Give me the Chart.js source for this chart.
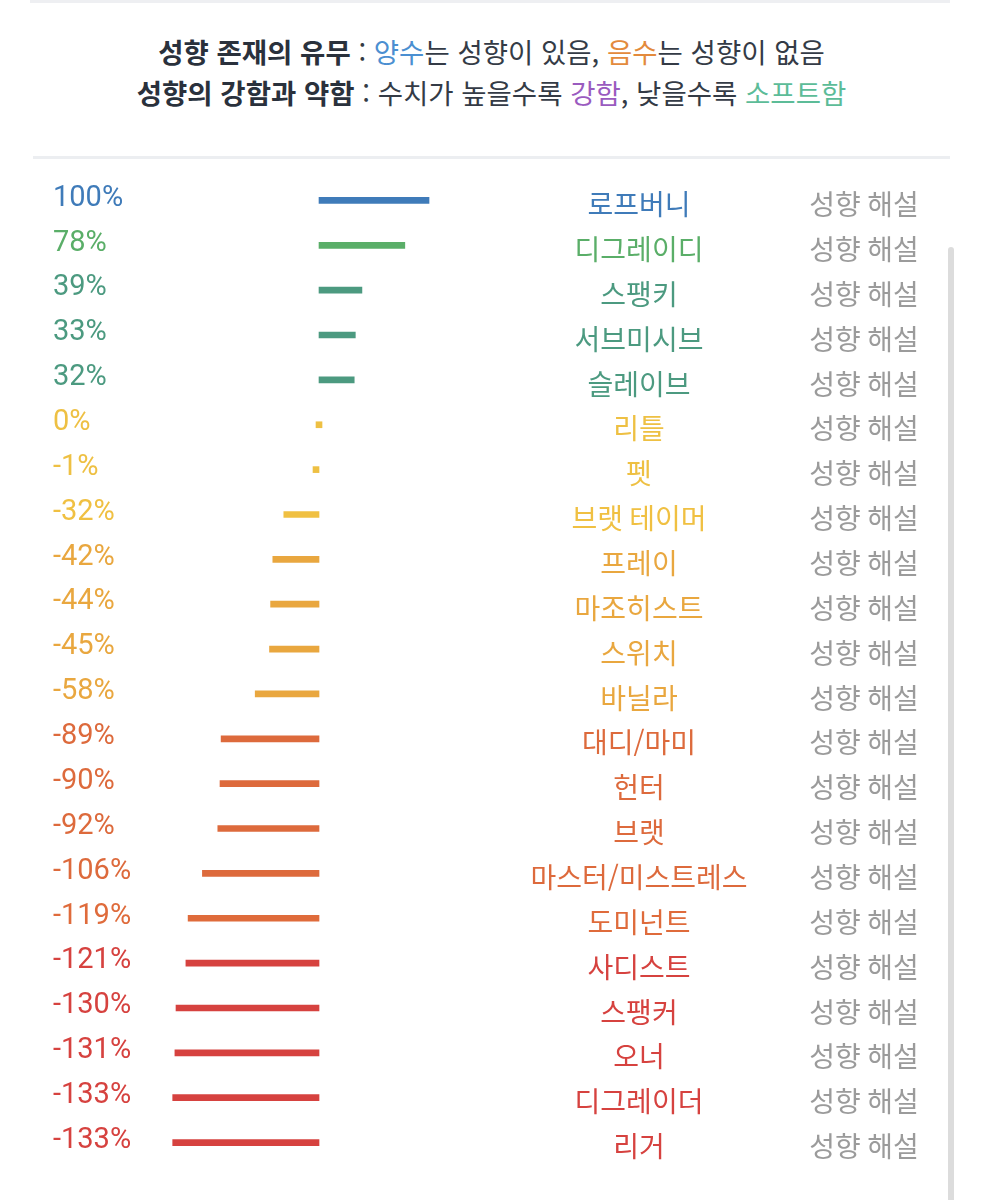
<!DOCTYPE html>
<html lang="ko">
  <head>
    <meta charset="UTF-8" />
    <meta name="viewport" content="width=device-width, initial-scale=1.0" />
    <title>성향 차트</title>
    <script src="https://cdn.jsdelivr.net/npm/chart.js"></script>
    <style>
      body {
        margin: 0;
        width: 983px;
        height: 1200px;
        overflow: hidden;
        position: relative;
        background: #fff;
        font-family: "Noto Sans CJK KR", sans-serif;
      }
      .topline {
        position: absolute;
        left: 30px;
        top: 0;
        width: 920px;
        height: 3px;
        background: #eeeff2;
      }
      .head {
        position: absolute;
        left: 0;
        top: 31px;
        width: 983px;
        text-align: center;
        font-size: 27.5px;
        line-height: 41px;
        color: #343b46;
      }
      .head b { color: #2a313c; }
      .divider {
        position: absolute;
        left: 33px;
        top: 156px;
        width: 917px;
        height: 3px;
        background: #eceef1;
      }
      .scroll {
        position: absolute;
        left: 948px;
        top: 247px;
        width: 6px;
        height: 960px;
        border-radius: 3px;
        background: #dcdcdc;
      }
      #wrap {
        position: absolute;
        left: 0;
        top: 0;
        width: 983px;
        height: 1200px;
      }
    </style>
  </head>
  <body>
    <div class="topline"></div>
    <div class="head">
      <div><b>성향 존재의 유무</b> : <span style="color:#4b8fd1">양수</span>는 성향이 있음, <span style="color:#e38a3c">음수</span>는 성향이 없음</div>
      <div><b>성향의 강함과 약함</b> : 수치가 높을수록 <span style="color:#9a5bbf">강함</span>, 낮을수록 <span style="color:#5cbc98">소프트함</span></div>
    </div>
    <div class="divider"></div>
    <div class="scroll"></div>
    <div id="wrap">
      <canvas id="myChart"></canvas>
    </div>

    <script>
      // 성향 이름
      const names = [
        "로프버니", "디그레이디", "스팽키", "서브미시브", "슬레이브", "리틀", "펫",
        "브랫 테이머", "프레이", "마조히스트", "스위치", "바닐라", "대디/마미", "헌터",
        "브랫", "마스터/미스트레스", "도미넌트", "사디스트", "스팽커", "오너", "디그레이더", "리거",
      ];
      // 퍼센트 값
      const values = [
        100, 78, 39, 33, 32, 0, -1, -32, -42, -44, -45, -58, -89, -90, -92, -106, -119,
        -121, -130, -131, -133, -133,
      ];
      const colors = [
        "#3f7bb9", "#5aae68", "#4c9a80", "#4c9a80", "#4c9a80", "#eec043", "#eec043",
        "#f0c042", "#e9a73f", "#e9a73f", "#e9a73f", "#e9a73f", "#dd6a3c", "#dd6a3c",
        "#dd6a3c", "#dd6a3c", "#df6b3b", "#d6423f", "#d6423f", "#d6423f", "#d6423f", "#d6423f",
      ];
      const noteLabel = "성향 해설";

      // 글자는 플러그인으로 (퍼센트 / 이름 / 해설)
      const rowText = {
        id: "rowText",
        afterDatasetsDraw(chart) {
          const ctx = chart.ctx;
          const y = chart.scales.y;
          ctx.save();
          ctx.textBaseline = "middle";
          names.forEach((n, i) => {
            const py = y.getPixelForValue(i);
            ctx.fillStyle = colors[i];
            ctx.font = '29px Roboto';
            ctx.textAlign = "left";
            ctx.fillText(values[i] + "%", 53, py - 2);
            ctx.font = '28px "Noto Sans CJK KR"';
            ctx.textAlign = "center";
            ctx.fillText(n, 639, py + 4);
            ctx.fillStyle = "#9b9b9b";
            ctx.fillText(noteLabel, 864, py + 4);
          });
          ctx.restore();
        },
      };

      function drawChart() {
        const ctx = document.getElementById("myChart");
        new Chart(ctx, {
          type: "bar",
          data: {
            labels: names,
            datasets: [
              {
                data: values,
                backgroundColor: colors,
                borderWidth: 0,
                barThickness: 6,
                minBarLength: 6,
              },
            ],
          },
          options: {
            indexAxis: "y",
            responsive: true,
            maintainAspectRatio: false,
            animation: false,
            layout: { padding: { top: 178, bottom: 35, left: 0, right: 0 } },
            scales: {
              x: { display: false, min: -290, max: 603.6 },
              y: { display: false },
            },
            plugins: {
              legend: { display: false },
              tooltip: { enabled: false },
            },
          },
          plugins: [rowText],
        });
      }
      drawChart();
    </script>
  </body>
</html>
